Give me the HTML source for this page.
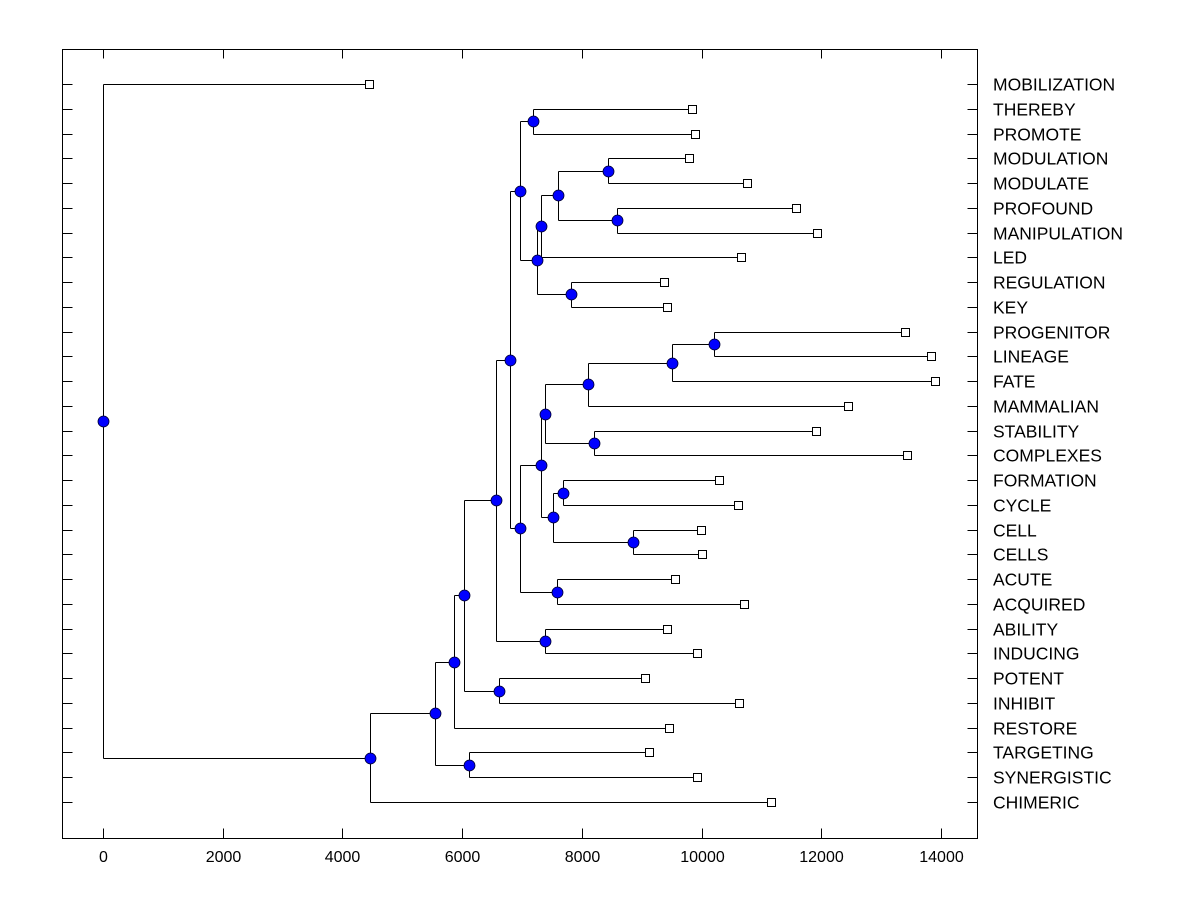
<!DOCTYPE html>
<html><head><meta charset="utf-8">
<style>
html,body{margin:0;padding:0;background:#fff;}
svg text{font-family:"Liberation Sans",Arial,sans-serif;}
</style></head>
<body>
<svg id="chart" width="1200" height="900" xmlns="http://www.w3.org/2000/svg">
<rect x="0" y="0" width="1200" height="900" fill="#fff"/>
<rect x="62.5" y="49.5" width="915" height="789" fill="none" stroke="#000" stroke-width="1"/>
<g id="axes"></g>
<g id="links"></g>
<g id="marks"></g>
<g id="labels"></g>
</svg>
<script>
const leafLabels = ["MOBILIZATION","THEREBY","PROMOTE","MODULATION","MODULATE","PROFOUND","MANIPULATION","LED","REGULATION","KEY","PROGENITOR","LINEAGE","FATE","MAMMALIAN","STABILITY","COMPLEXES","FORMATION","CYCLE","CELL","CELLS","ACUTE","ACQUIRED","ABILITY","INDUCING","POTENT","INHIBIT","RESTORE","TARGETING","SYNERGISTIC","CHIMERIC"];
const leafValues = [4444,9840,9890,9790,10760,11577,11928,10658,9372,9422,13398,13832,13899,12446,11911,13431,10291,10608,9990,10007,9556,10708,9422,9923,9055,10625,9455,9121,9923,11159];
const mergeLeft  = [1,3,5,31,33,8,34,30,10,38,39,14,40,16,18,43,42,20,46,37,22,49,24,51,53,27,54,56,0];
const mergeRight = [2,4,6,32,7,9,35,36,11,12,13,15,41,17,19,44,45,21,47,48,23,50,25,52,26,28,55,29,57];
const mergeHeights = [7183,8437,8587,7601,7317,7818,7250,6966,10207,9505,8102,8202,7384,7685,8854,7518,7317,7584,6966,6799,7384,6565,6615,6031,5864,6114,5546,4460,0];
const xTicks = [0,2000,4000,6000,8000,10000,12000,14000];

const NS="http://www.w3.org/2000/svg";
const X0=103, XS=(941-103)/14000;
const xS = v => X0 + v*XS;
const Y0=84, YS=(802-84)/29;
const yRow = i => Y0 + i*YS;
const PL=62.5, PR=977.5, PT=49.5, PB=838.5;

function mk(tag, parent, attrs){
  const el=document.createElementNS(NS,tag);
  for(const k in attrs) el.setAttribute(k,attrs[k]);
  parent.appendChild(el);
  return el;
}
const axes=document.getElementById('axes');
const links=document.getElementById('links');
const marks=document.getElementById('marks');
const labels=document.getElementById('labels');

xTicks.forEach(t=>{
  const x=Math.round(xS(t))+0.5;
  const b=mk('line',axes,{x1:x,x2:x,y1:PB,y2:PB-10,stroke:'#000'});
  
  
  const tp=mk('line',axes,{x1:x,x2:x,y1:PT,y2:PT+9,stroke:'#000'});
  
  
  const tx=mk('text',axes,{x:x,y:862,'font-size':'16','text-anchor':'middle',fill:'#000'});
  tx.textContent=t;
  
  
});
leafLabels.forEach((lab,i)=>{
  const y=Math.round(yRow(i))+0.5;
  const l=mk('line',axes,{x1:PL,x2:PL+10,y1:y,y2:y,stroke:'#000'});
  
  
  const r=mk('line',axes,{x1:PR,x2:PR-10,y1:y,y2:y,stroke:'#000'});
  
  
  const tx=mk('text',labels,{x:993,y:y+6,'font-size':'17.5',fill:'#000'});
  tx.textContent=lab;
  
  
});

const nodeX=[], nodeY=[];
leafValues.forEach((v,i)=>{nodeX[i]=xS(v); nodeY[i]=yRow(i);});
const n=leafValues.length;
mergeHeights.forEach((h,k)=>{
  const id=n+k, a=mergeLeft[k], b=mergeRight[k];
  nodeX[id]=xS(h); nodeY[id]=(nodeY[a]+nodeY[b])/2;
});
const px=v=>Math.round(v)+0.5;
mergeHeights.forEach((h,k)=>{
  const id=n+k, a=mergeLeft[k], b=mergeRight[k];
  const x=px(nodeX[id]);
  const v=mk('line',links,{x1:x,x2:x,y1:px(nodeY[a]),y2:px(nodeY[b]),stroke:'#000'});
  
  
  [a,b].forEach(c=>{
    const hl=mk('line',links,{x1:x,x2:px(nodeX[c]),y1:px(nodeY[c]),y2:px(nodeY[c]),stroke:'#000'});
    
    
  });
});
leafValues.forEach((v,i)=>{
  const s=mk('rect',marks,{x:Math.round(nodeX[i])-3.5,y:Math.round(nodeY[i])-3.5,width:8,height:8,fill:'#fff',stroke:'#000'});
  
  
});
mergeHeights.forEach((h,k)=>{
  const id=n+k;
  const c=mk('circle',marks,{cx:Math.round(nodeX[id])+0.5,cy:Math.round(nodeY[id])+0.5,r:5.5,fill:'#0000ff',stroke:'#000033','stroke-width':'0.8'});
  
  
});
</script>
</body></html>
